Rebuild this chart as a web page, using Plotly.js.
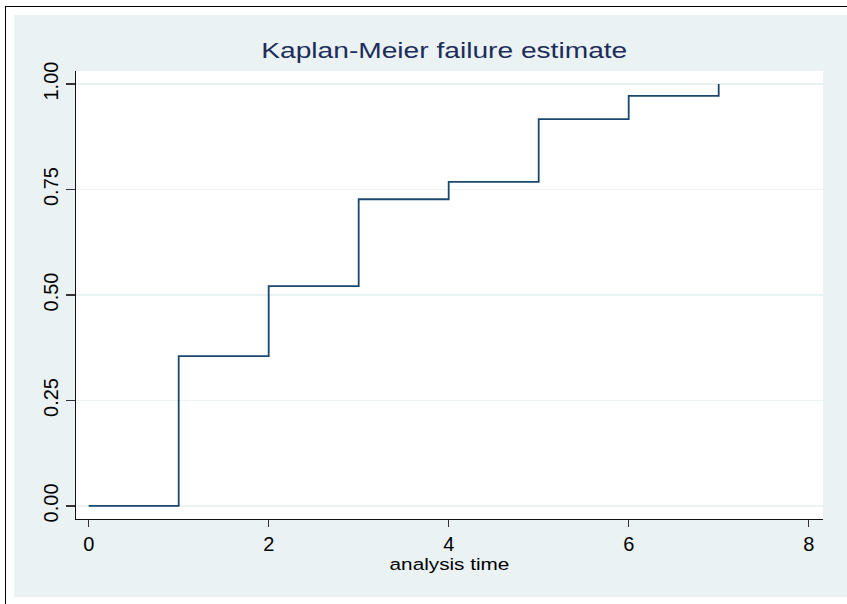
<!DOCTYPE html>
<html><head><meta charset="utf-8">
<script src="https://cdn.plot.ly/plotly-3.0.1.min.js"></script>
<style>
html,body{margin:0;padding:0;background:#fff;width:847px;height:604px;overflow:hidden;}
#frame{position:absolute;left:5px;top:6px;width:842px;height:598px;border-left:1.6px solid #000;border-top:1.6px solid #000;}
#chart{position:absolute;left:14px;top:15px;width:833px;height:582px;}
.gtitle{transform-box:fill-box;transform-origin:center;transform:scaleX(1.28);}
.xtitle{transform-box:fill-box;transform-origin:center;transform:scaleX(1.22);}
</style>
</head><body>
<div id="frame"></div>
<div id="chart"></div>
<script>
// Kaplan-Meier failure estimate
const analysisTime = [0, 1, 2, 3, 4, 5, 6, 7];
const failure = [0, 0.355, 0.521, 0.727, 0.768, 0.917, 0.972, 1.0];
const xTickVals = [0, 2, 4, 6, 8];
const yTickVals = [0, 0.25, 0.5, 0.75, 1.0];
const yTickText = ['0.00', '0.25', '0.50', '0.75', '1.00'];

const trace = {
  x: analysisTime,
  y: failure,
  type: 'scatter',
  mode: 'lines',
  line: {shape: 'hv', color: '#1a476f', width: 1.8},
  hoverinfo: 'skip'
};

const font = 'Liberation Sans, Arial, sans-serif';
const layout = {
  width: 833, height: 582,
  paper_bgcolor: '#eaf2f3',
  plot_bgcolor: '#ffffff',
  margin: {l: 62, r: 24, t: 56, b: 78},
  showlegend: false,
  title: {
    text: 'Kaplan-Meier failure estimate',
    font: {family: font, size: 22, color: '#1c2d5a'},
    xref: 'paper', x: 0.493, xanchor: 'center',
    yref: 'container', y: 0.9395, yanchor: 'middle'
  },
  xaxis: {
    range: [-0.141, 8.159],
    tickvals: xTickVals,
    ticktext: xTickVals.map(String),
    showgrid: false, zeroline: false,
    showline: true, linecolor: '#111', linewidth: 1.2,
    ticks: 'outside', ticklen: 7, tickwidth: 1.2, tickcolor: '#333',
    tickfont: {family: font, size: 20, color: '#000'},
    title: {text: 'analysis time', font: {family: font, size: 17, color: '#000'}, standoff: 4},
    automargin: false
  },
  yaxis: {
    range: [-0.031, 1.031],
    tickvals: yTickVals,
    ticktext: yTickText,
    tickangle: -90,
    showgrid: true, gridcolor: '#eaf2f3', gridwidth: 1.5,
    zeroline: false,
    showline: true, linecolor: '#111', linewidth: 1.2,
    ticks: 'outside', ticklen: 9, tickwidth: 1.2, tickcolor: '#333',
    tickfont: {family: font, size: 20, color: '#000'},
    automargin: false
  }
};

Plotly.newPlot('chart', [trace], layout, {staticPlot: true, displayModeBar: false});
</script>
</body></html>
